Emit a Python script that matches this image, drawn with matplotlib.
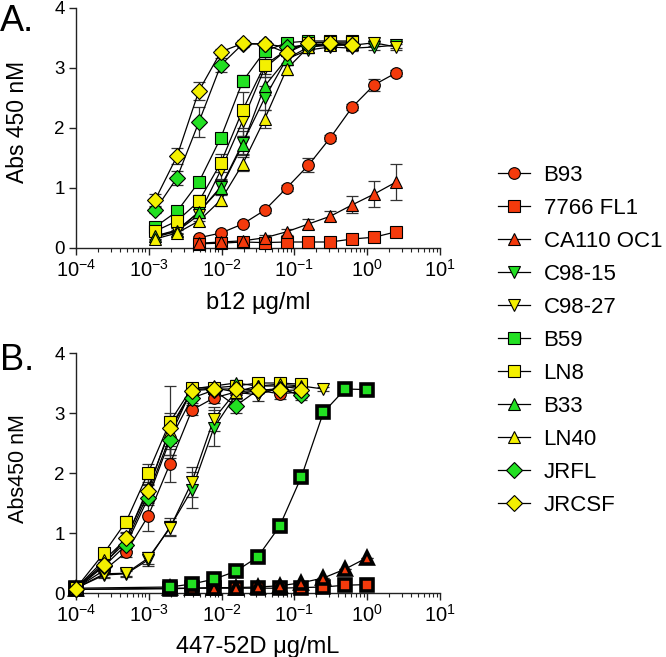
import matplotlib
matplotlib.use("Agg")
import matplotlib.pyplot as plt
from matplotlib.lines import Line2D
import numpy as np

plt.rcParams['font.family'] = ['Liberation Sans', 'DejaVu Sans']
plt.rcParams['mathtext.fontset'] = 'custom'
plt.rcParams['mathtext.rm'] = 'Liberation Sans'
plt.rcParams['mathtext.it'] = 'Liberation Sans:italic'
plt.rcParams['mathtext.bf'] = 'Liberation Sans:bold'

RED = '#F43A0C'
GREEN = '#22E022'
YELLOW = '#F4F000'

names = ['B93', '7766 FL1', 'CA110 OC1', 'C98-15', 'C98-27', 'B59', 'LN8', 'B33', 'LN40', 'JRFL', 'JRCSF']
markers = ['o', 's', '^', 'v', 'v', 's', 's', '^', '^', 'D', 'D']
colors = [RED, RED, RED, GREEN, YELLOW, GREEN, YELLOW, GREEN, YELLOW, GREEN, YELLOW]

# ---------- Panel A: b12 ----------
xA_full = [0.00122, 0.00244, 0.00488, 0.00977, 0.0195, 0.0391, 0.0781, 0.156, 0.3125, 0.625, 1.25, 2.5]
xA_red = [0.00488, 0.00977, 0.0195, 0.0391, 0.0781, 0.156, 0.3125, 0.625, 1.25, 2.5]
xA_sens = [0.00122, 0.00244, 0.00488, 0.00977, 0.0195, 0.0391, 0.0781, 0.156, 0.3125, 0.625]

A_B93 = [0.17, 0.25, 0.40, 0.63, 1.00, 1.38, 1.84, 2.35, 2.72, 2.92]
A_7766 = [0.07, 0.08, 0.10, 0.09, 0.10, 0.10, 0.10, 0.15, 0.18, 0.27]
A_CA110 = [0.08, 0.10, 0.12, 0.17, 0.27, 0.40, 0.53, 0.72, 0.90, 1.10]
A_C9815 = [0.20, 0.30, 0.60, 1.02, 1.75, 2.50, 3.15, 3.30, 3.35, 3.33, 3.35, 3.38]
A_C9827 = [0.18, 0.28, 0.55, 1.30, 2.12, 3.00, 3.30, 3.40, 3.38, 3.38, 3.42, 3.35]
A_B59 = [0.35, 0.61, 1.10, 1.84, 2.78, 3.28, 3.42, 3.45, 3.45, 3.45]
A_LN8 = [0.28, 0.45, 0.78, 1.42, 2.30, 3.05, 3.30, 3.42, 3.43, 3.43]
A_B33 = [0.20, 0.28, 0.60, 1.00, 1.72, 2.70, 3.15, 3.35, 3.40, 3.40]
A_LN40 = [0.15, 0.25, 0.45, 0.80, 1.40, 2.15, 2.98, 3.35, 3.38, 3.40]
A_JRFL = [0.63, 1.17, 2.10, 3.05, 3.40, 3.40, 3.35, 3.38, 3.40, 3.38]
A_JRCSF = [0.80, 1.53, 2.62, 3.27, 3.41, 3.40, 3.25, 3.42, 3.42, 3.38]

eA_B93 = [0.03, 0.03, 0.03, 0.04, 0.05, 0.12, 0.05, 0.05, 0.10, 0.05]
eA_7766 = [0.02, 0.02, 0.02, 0.02, 0.02, 0.02, 0.02, 0.03, 0.03, 0.04]
eA_CA110 = [0.02, 0.02, 0.03, 0.04, 0.05, 0.08, 0.08, 0.14, 0.22, 0.30]
eA_C9815 = [0.05, 0.05, 0.10, 0.12, 0.20, 0.20, 0.10, 0.05, 0.05, 0.05, 0.05, 0.05]
eA_C9827 = [0.05, 0.05, 0.10, 0.15, 0.25, 0.15, 0.10, 0.05, 0.05, 0.05, 0.05, 0.05]
eA_B59 = [0.05, 0.05, 0.08, 0.08, 0.10, 0.10, 0.05, 0.05, 0.05, 0.05]
eA_LN8 = [0.05, 0.08, 0.10, 0.15, 0.30, 0.15, 0.05, 0.05, 0.05, 0.05]
eA_B33 = [0.05, 0.05, 0.10, 0.12, 0.15, 0.15, 0.10, 0.05, 0.05, 0.05]
eA_LN40 = [0.05, 0.05, 0.08, 0.10, 0.12, 0.15, 0.10, 0.05, 0.05, 0.05]
eA_JRFL = [0.05, 0.12, 0.25, 0.12, 0.05, 0.05, 0.05, 0.05, 0.05, 0.05]
eA_JRCSF = [0.10, 0.13, 0.15, 0.05, 0.05, 0.05, 0.05, 0.05, 0.05, 0.05]

# ---------- Panel B: 447-52D ----------
xB_sens = [1e-4, 2.44e-4, 4.88e-4, 9.77e-4, 1.95e-3, 3.91e-3, 7.81e-3, 0.0156, 0.03125, 0.0625, 0.125]
xB_c27 = [1e-4, 2.44e-4, 4.88e-4, 9.77e-4, 1.95e-3, 3.91e-3, 7.81e-3, 0.0156, 0.03125, 0.0625, 0.125, 0.25]
xB_res = [1e-4, 1.95e-3, 3.91e-3, 7.81e-3, 0.0156, 0.03125, 0.0625, 0.125, 0.25, 0.5, 1.0]

B_B93 = [0.08, 0.38, 0.68, 1.28, 2.15, 3.05, 3.25, 3.35, 3.38, 3.32, 3.35]
B_C9815 = [0.08, 0.30, 0.32, 0.55, 1.10, 1.72, 2.75, 3.30, 3.38, 3.40, 3.30]
B_C9827 = [0.08, 0.32, 0.33, 0.58, 1.08, 1.85, 2.90, 3.35, 3.30, 3.42, 3.45, 3.40]
B_LN8 = [0.08, 0.67, 1.19, 2.00, 2.85, 3.42, 3.42, 3.45, 3.50, 3.50, 3.48]
B_B33 = [0.08, 0.50, 0.85, 1.65, 2.60, 3.40, 3.45, 3.50, 3.45, 3.45, 3.40]
B_LN40 = [0.08, 0.55, 0.90, 1.75, 2.70, 3.38, 3.42, 3.35, 3.45, 3.48, 3.45]
B_JRFL = [0.07, 0.45, 0.80, 1.58, 2.55, 3.25, 3.38, 3.12, 3.38, 3.40, 3.30]
B_JRCSF = [0.07, 0.47, 0.92, 1.70, 2.75, 3.37, 3.40, 3.40, 3.38, 3.38, 3.38]
B_B59 = [0.08, 0.10, 0.15, 0.23, 0.36, 0.60, 1.11, 1.94, 3.01, 3.40, 3.39]
B_7766 = [0.06, 0.07, 0.08, 0.08, 0.08, 0.08, 0.08, 0.09, 0.10, 0.13, 0.14]
B_CA110 = [0.06, 0.08, 0.08, 0.09, 0.09, 0.10, 0.12, 0.17, 0.25, 0.40, 0.59]

eB_B93 = [0.02, 0.05, 0.08, 0.25, 0.30, 0.08, 0.08, 0.05, 0.05, 0.08, 0.05]
eB_C9815 = [0.02, 0.05, 0.05, 0.10, 0.15, 0.30, 0.30, 0.10, 0.05, 0.05, 0.08]
eB_C9827 = [0.02, 0.05, 0.05, 0.10, 0.12, 0.25, 0.20, 0.10, 0.10, 0.05, 0.05, 0.03]
eB_LN8 = [0.02, 0.05, 0.10, 0.15, 0.60, 0.05, 0.05, 0.05, 0.05, 0.05, 0.05]
eB_B33 = [0.02, 0.05, 0.10, 0.15, 0.30, 0.05, 0.05, 0.05, 0.05, 0.05, 0.05]
eB_LN40 = [0.02, 0.05, 0.10, 0.15, 0.30, 0.05, 0.05, 0.05, 0.05, 0.05, 0.05]
eB_JRFL = [0.02, 0.05, 0.10, 0.12, 0.25, 0.08, 0.05, 0.12, 0.05, 0.05, 0.05]
eB_JRCSF = [0.02, 0.05, 0.10, 0.12, 0.20, 0.05, 0.05, 0.05, 0.05, 0.05, 0.05]

x_ticks = [1e-4, 1e-3, 1e-2, 1e-1, 1e0, 1e1]
x_tick_labels = ['$10^{-4}$', '$10^{-3}$', '$10^{-2}$', '$10^{-1}$', '$10^{0}$', '$10^{1}$']
y_ticks = [0, 1, 2, 3, 4]

W, H = 666, 657
fig = plt.figure(figsize=(W / 100, H / 100), dpi=100)
axA = fig.add_axes([76 / W, 1 - 248 / H, 364 / W, 240 / H])
axB = fig.add_axes([76 / W, 1 - 593 / H, 364 / W, 240 / H])

MS = 8.4


def msize(i, thick=False):
    if thick:
        return MS * 1.02
    return MS * (0.95 if markers[i] == 'D' else 1.0)


def draw(ax, x, y, e, i, thick=False):
    ax.errorbar(x, y, yerr=e, fmt='none', ecolor='#333333', elinewidth=0.9,
                capsize=4, capthick=0.9, zorder=2 + i * 0.01, clip_on=False)
    ax.plot(x, y, '-', color='black', linewidth=0.9, zorder=3 + i * 0.01, clip_on=False)
    ax.plot(x, y, linestyle='none', marker=markers[i], markersize=msize(i, thick),
            markerfacecolor=colors[i], markeredgecolor='black',
            markeredgewidth=2.6 if thick else 0.8, zorder=4 + i * 0.01, clip_on=False)


A_series = [
    (xA_red, A_B93, eA_B93), (xA_red, A_7766, eA_7766), (xA_red, A_CA110, eA_CA110),
    (xA_full, A_C9815, eA_C9815), (xA_full, A_C9827, eA_C9827),
    (xA_sens, A_B59, eA_B59), (xA_sens, A_LN8, eA_LN8),
    (xA_sens, A_B33, eA_B33), (xA_sens, A_LN40, eA_LN40),
    (xA_sens, A_JRFL, eA_JRFL), (xA_sens, A_JRCSF, eA_JRCSF),
]
for i, (x, y, e) in enumerate(A_series):
    draw(axA, x, y, e, i)

zeros = [0.0] * 11
B_series = [
    (xB_sens, B_B93, eB_B93, False), (xB_res, B_7766, zeros, True), (xB_res, B_CA110, zeros, True),
    (xB_sens, B_C9815, eB_C9815, False), (xB_c27, B_C9827, eB_C9827, False),
    (xB_res, B_B59, zeros, True), (xB_sens, B_LN8, eB_LN8, False),
    (xB_sens, B_B33, eB_B33, False), (xB_sens, B_LN40, eB_LN40, False),
    (xB_sens, B_JRFL, eB_JRFL, False), (xB_sens, B_JRCSF, eB_JRCSF, False),
]
for i, (x, y, e, thick) in enumerate(B_series):
    draw(axB, x, y, e, i, thick)

for ax in (axA, axB):
    ax.set_xscale('log')
    ax.set_xlim(1e-4, 1e1)
    ax.set_ylim(0, 4)
    ax.set_xticks(x_ticks)
    ax.set_xticklabels(x_tick_labels)
    ax.set_yticks(y_ticks)
    ax.xaxis.set_minor_locator(matplotlib.ticker.LogLocator(base=10, subs=np.arange(2, 10), numticks=20))
    ax.xaxis.set_minor_formatter(matplotlib.ticker.NullFormatter())
    for s in ('top', 'right'):
        ax.spines[s].set_visible(False)
    for s in ('left', 'bottom'):
        ax.spines[s].set_linewidth(1.0)
        ax.spines[s].set_color('#222222')
    ax.tick_params(axis='both', which='major', direction='out', length=5, width=1.0,
                   color='#222222', pad=3)
    ax.tick_params(axis='x', which='major', labelsize=14.5)
    ax.tick_params(axis='y', which='major', labelsize=13.5)
    ax.tick_params(axis='x', which='minor', direction='out', length=3, width=0.8, color='#222222')
    ax.set_facecolor('none')

axA.set_xlabel('b12 µg/ml', fontsize=17, labelpad=8)
axB.set_xlabel('447-52D μg/mL', fontsize=17, labelpad=7)
axA.set_ylabel('Abs 450 nM', fontsize=16.5)
axB.set_ylabel('Abs450 nM', fontsize=15.5)
axA.yaxis.set_label_coords(-0.128, 0.525)
axB.yaxis.set_label_coords(-0.128, 0.52)

fig.text(0 / W, 1 - 4 / H, 'A.', fontsize=26, ha='left', va='top')
fig.text(0 / W, 1 - 343 / H, 'B.', fontsize=26, ha='left', va='top')

handles = [Line2D([0], [0], color='black', linewidth=0.9, marker=markers[i],
                  markersize=msize(i),
                  markerfacecolor=colors[i], markeredgecolor='black', markeredgewidth=0.8)
           for i in range(len(names))]
fig.legend(handles, names, loc='upper left', bbox_to_anchor=(498 / W, 1 - 165 / H),
           frameon=False, fontsize=16, handlelength=1.45, handletextpad=0.6,
           labelspacing=0.54, borderaxespad=0, borderpad=0)

fig.savefig('out.png', dpi=100)
